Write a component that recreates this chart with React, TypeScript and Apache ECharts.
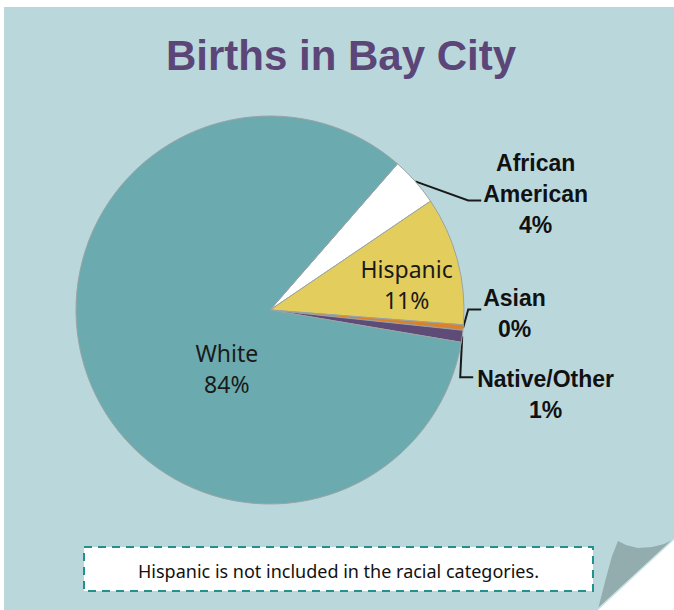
import React, { useEffect, useRef } from 'react';
import * as echarts from 'echarts';

// ---- data ----
const categories = ['African American', 'Hispanic', 'Asian', 'Native/Other', 'White'];
const labelNames = ['African\nAmerican', 'Hispanic', 'Asian', 'Native/Other', 'White'];
const values = [4.1, 10.7, 0.45, 1.0, 83.75];
const colors = ['#ffffff', '#e3cd5c', '#d9822b', '#5e4b78', '#6babaf'];
const outsideLabel = [true, false, true, true, false];
const titleText = 'Births in Bay City';
const noteText = 'Hispanic is not included in the racial categories.';

// label line bends / label offsets relative to the slice edge point (outside labels)
const lineBend: Record<number, [number, number]> = { 0: [53, 19], 2: [5, -18], 3: [-2, 41] };
const lineTail: Record<number, number> = { 0: 13, 2: 13, 3: 13 };
const labelShift: Record<number, [number, number]> = { 0: [2, -6], 2: [2, 4], 3: [4, 17] };
// inside label nudges
const insideShift: Record<number, [number, number]> = { 1: [40, 0], 4: [51, 25] };

export default function App() {
  const ref = useRef<HTMLDivElement>(null);

  useEffect(() => {
    document.body.style.margin = '0';
    const chart = echarts.init(ref.current!, null, { renderer: 'svg' });

    const data = categories.map((name, i) => {
      const out = outsideLabel[i];
      return {
        name,
        value: values[i],
        itemStyle: { color: colors[i] },
        label: {
          show: true,
          position: out ? 'outside' : 'inside',
          formatter: (p: any) =>
            labelNames[i]
              .split('\n')
              .map((s) => `{t|${s}}`)
              .join('\n') + `\n{t|${Math.round(p.percent)}%}`,
          rich: {
            t: out
              ? {
                  fontFamily: 'Liberation Sans',
                  fontWeight: 'bold',
                  fontSize: 23,
                  lineHeight: 31,
                  color: '#111111',
                  align: 'center',
                }
              : {
                  fontFamily: 'Noto Sans',
                  fontSize: 23,
                  lineHeight: 31,
                  color: '#1a1a1a',
                  align: 'center',
                },
          },
        },
        labelLine: { show: out },
      };
    });

    const option: any = {
      animation: false,
      backgroundColor: '#ffffff',
      graphic: [
        {
          type: 'polygon',
          z: 0,
          shape: {
            points: [
              [4, 7],
              [674, 7],
              [674, 539],
              [598, 610],
              [4, 610],
            ],
          },
          style: { fill: '#bad8dc' },
        },
        {
          type: 'polygon',
          z: 1,
          shape: {
            points: [
              [598, 609],
              [606, 578],
              [612, 556],
              [618, 541],
              [626, 545],
              [638, 548],
              [652, 547],
              [664, 544],
              [674, 539],
            ],
          },
          style: { fill: '#93adae' },
        },
        {
          type: 'line',
          z: 1,
          shape: { x1: 674, y1: 539, x2: 598, y2: 609 },
          style: { stroke: '#cde4e6', lineWidth: 1.5 },
        },
        {
          type: 'text',
          z: 1,
          style: {
            text: titleText,
            x: 341,
            y: 55,
            fontFamily: 'Liberation Sans',
            fontWeight: 'bold',
            fontSize: 42,
            fill: '#5b4677',
            align: 'center',
            verticalAlign: 'middle',
          },
        },
        {
          type: 'rect',
          z: 1,
          shape: { x: 84, y: 547, width: 509, height: 44 },
          style: { fill: '#ffffff', stroke: '#23908d', lineWidth: 2, lineDash: [8, 6] },
        },
        {
          type: 'text',
          z: 2,
          style: {
            text: noteText,
            x: 338.5,
            y: 571,
            fontFamily: 'Noto Sans',
            fontSize: 18,
            fill: '#111111',
            align: 'center',
            verticalAlign: 'middle',
          },
        },
      ],
      series: [
        {
          type: 'pie',
          center: [270, 310],
          radius: 194,
          startAngle: 48.9,
          clockwise: true,
          avoidLabelOverlap: false,
          silent: true,
          itemStyle: { borderColor: '#9aa4a5', borderWidth: 1 },
          labelLine: { lineStyle: { color: '#1a1a1a', width: 2 }, length: 20, length2: 13 },
          labelLayout: (params: any) => {
            const i = params.dataIndex;
            if (insideShift[i]) {
              return { dx: insideShift[i][0], dy: insideShift[i][1] };
            }
            const pts = params.labelLinePoints;
            if (!pts) return {};
            const p0 = pts[0];
            const b = lineBend[i];
            const p1 = [p0[0] + b[0], p0[1] + b[1]];
            const p2 = [p1[0] + lineTail[i], p1[1]];
            const s = labelShift[i];
            return {
              x: p2[0] + s[0],
              y: p2[1] + s[1],
              align: 'left',
              verticalAlign: 'middle',
              labelLinePoints: [p0, p1, p2],
            };
          },
          data,
        },
      ],
    };

    chart.setOption(option);
    return () => chart.dispose();
  }, []);

  return <div ref={ref} style={{ width: 674, height: 610 }} />;
}
